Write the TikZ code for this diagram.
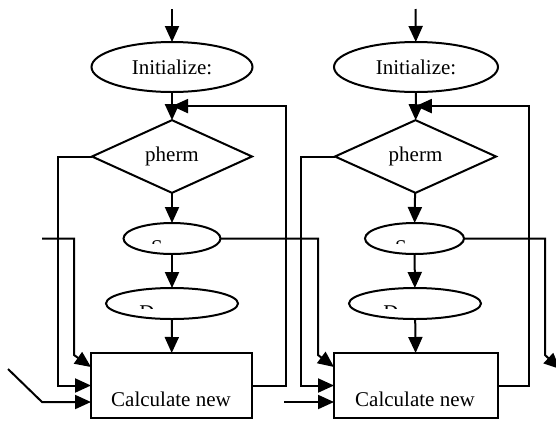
\documentclass[tikz,border=0pt]{standalone}
\usepackage{fontspec}
\setmainfont{Liberation Serif}
\usetikzlibrary{arrows.meta,shapes.geometric,calc}
\begin{document}
\begin{tikzpicture}[x=1pt,y=-1pt,
  line width=2pt,
  font=\fontsize{21}{25}\selectfont,
  arr/.style={-{Triangle[length=16pt,width=14pt]}},
  oval/.style={draw,ellipse,inner sep=0pt,outer sep=0pt},
  test/.style={draw,diamond,inner sep=0pt,outer sep=0pt},
  proc/.style={draw,rectangle,inner sep=0pt,outer sep=0pt},
  frag/.style={anchor=base,inner sep=0pt}]
\useasboundingbox (0,0) rectangle (556,421);

% ---- left column ----
\node[oval,minimum width=161pt,minimum height=50pt] (ini1) at (172,67) {Initialize:};
\node[test,minimum width=160pt,minimum height=63pt] (dia1) at (172,156.5) {pherm};
\node[oval,minimum width=97pt,minimum height=31pt] (s1) at (172,238.5) {};
\node[oval,minimum width=132pt,minimum height=31pt] (d1) at (172,303.5) {};
\node[proc,minimum width=161pt,minimum height=65pt] (box1) at (171.5,385.5) {};
\node (t1) at (171,399) {Calculate new};

% ---- right column ----
\node[oval,minimum width=164pt,minimum height=50pt] (ini2) at (416,67) {Initialize:};
\node[test,minimum width=161pt,minimum height=63pt] (dia2) at (415.5,156.5) {pherm};
\node[oval,minimum width=99pt,minimum height=31pt] (s2) at (414.5,238.5) {};
\node[oval,minimum width=132pt,minimum height=31pt] (d2) at (415,303.5) {};
\node[proc,minimum width=164pt,minimum height=65pt] (box2) at (416,385.5) {};
\node (t2) at (415,399) {Calculate new};

% clipped labels inside the small ovals
\begin{scope}
  \clip (100,230) rectangle (480,243.6);
  \node[frag] (sl1) at (157,254) {S};
  \node[frag] (sl2) at (401,254) {S};
\end{scope}
\begin{scope}
  \clip (100,295) rectangle (480,308.6);
  \node[frag] (dl1) at (147,319) {D};
  \node[frag] (dl2) at (391,319) {D};
\end{scope}

% ---- helper coordinates ----
\coordinate (in1) at (172,9);
\coordinate (in2) at (415.5,9);
\coordinate (j1) at ($(ini1.south)!0.5!(dia1.north)$);
\coordinate (j2) at ($(ini2.south)!0.5!(dia2.north)$);
\coordinate (r1) at ($(j1)+(114,0)$);
\coordinate (r2) at ($(j2)+(113.5,0)$);
\coordinate (l1) at (58,156.5);
\coordinate (l2) at (301,156.5);
\coordinate (fa) at (42,238.5);
\coordinate (ka) at (74,238.5);
\coordinate (kb) at (74,355);
\coordinate (c1) at (318,238.5);
\coordinate (c1b) at (318,355);
\coordinate (c2) at (545,238.5);
\coordinate (c2b) at (545,355);
\coordinate (c2e) at (560,369);
\coordinate (u1) at ($(box1.north west)+(0,14)$);
\coordinate (u2) at ($(box2.north west)+(0,14)$);
\coordinate (w1) at ($(box1.south west)+(0,-16)$);
\coordinate (w2) at ($(box2.south west)+(0,-16)$);
\coordinate (fb) at (8,369);
\coordinate (fbk) at (42,402);
\coordinate (fc) at (284,402);

% ---- main flow ----
\draw[arr] (in1) -- (ini1);
\draw[arr] (ini1) -- (dia1);
\draw[arr] (dia1) -- (s1);
\draw[arr] (s1) -- (d1);
\draw[arr] (d1) -- (box1);
\draw[arr] (in2) -- (ini2);
\draw[arr] (ini2) -- (dia2);
\draw[arr] (dia2) -- (s2);
\draw[arr] (s2) -- (d2);
\draw[arr] (d2) -- (box2);

% ---- loops back to the test ----
\draw[arr] (box1.east) -| (r1) -- (j1);
\draw[arr] (box2.east) -| (r2) -- (j2);

% ---- test bypass into the box ----
\draw[arr] (dia1.west) -- (l1) |- (box1.west);
\draw[arr] (dia2.west) -- (l2) |- (box2.west);

% ---- side inputs ----
\draw[arr] (fa) -- (ka) -- (kb) -- (u1);
\draw[arr] (s1.east) -- (c1) -- (c1b) -- (u2);
\draw[arr] (s2.east) -- (c2) -- (c2b) -- (c2e);
\draw[arr] (fb) -- (fbk) -- (w1);
\draw[arr] (fc) -- (w2);
\end{tikzpicture}
\end{document}
